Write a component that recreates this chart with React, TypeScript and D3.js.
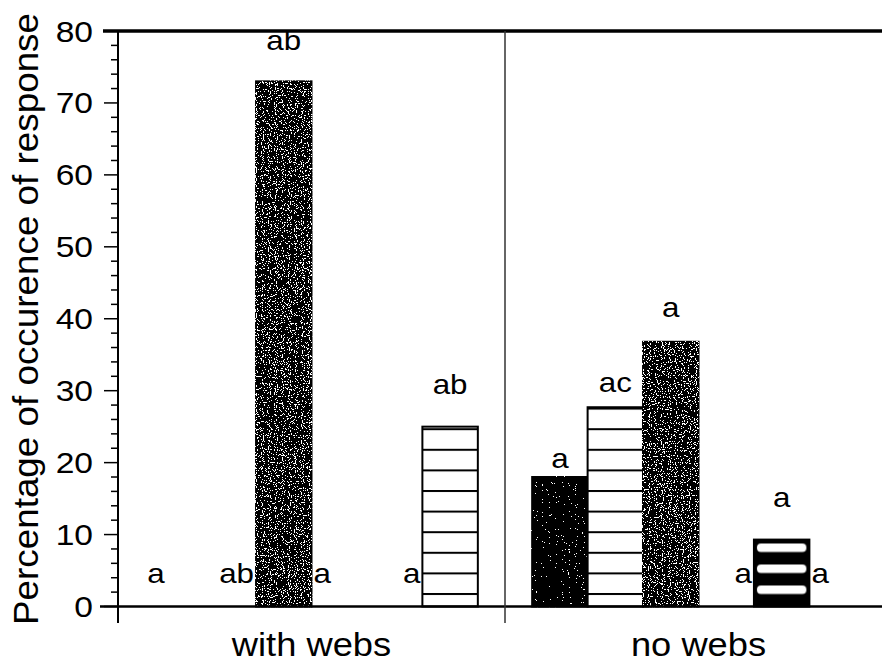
import React from "react";
import * as d3 from "d3";

const width = 882;
const height = 665;
const margin = { top: 31, left: 118, bottom: 606.5 };
const font = "'Liberation Sans', Arial, Helvetica, sans-serif";

// data
const groups = ["with webs", "no webs"];
const slots = [0, 1, 2, 3, 4, 5];
const withWebs = [0, 0, 73, 0, 0, 25];
const noWebs = [18, 27.7, 36.8, 0, 9.3, 0];
const withWebsLetters = ["a", "ab", "ab", "a", "a", "ab"];
const noWebsLetters = ["a", "ac", "a", "a", "a", "a"];
// where the letters sit, in axis units
const withWebsLetterAt = [3.3, 3.3, 77.4, 3.3, 3.3, 29.6];
const noWebsLetterAt = [19.3, 29.8, 40.2, 3.3, 13.8, 3.3];
const yTicks = [0, 10, 20, 30, 40, 50, 60, 70, 80];

const values = [withWebs, noWebs];
const letters = [withWebsLetters, noWebsLetters];
const letterAt = [withWebsLetterAt, noWebsLetterAt];

// styling per slot / for letters over empty bars
const slotFill = ["sparse", "lines", "speck", "speck", "bands", "lines"];
const zeroAlign = [
  ["start", "end", "middle", "start", "end", "middle"],
  ["middle", "middle", "middle", "end", "middle", "start"]
];

const x0 = d3.scaleBand().domain(groups).range([margin.left, 892]).padding(0);
const x1 = d3
  .scaleBand()
  .domain(slots.map(String))
  .range([0, x0.bandwidth()])
  .paddingInner(0)
  .paddingOuter(0.49);
const y = d3.scaleLinear().domain([0, 80]).range([margin.bottom, margin.top]);

const table = (t: number) =>
  d3.range(20).map(i => (i / 20 >= t ? 1 : 0)).join(" ");

const Speck = ({ id, t, seed }: { id: string; t: number; seed: number }) => (
  <filter id={id} x="-0.05" y="-0.02" width="1.1" height="1.04" colorInterpolationFilters="sRGB">
    <feTurbulence type="fractalNoise" baseFrequency="0.85" numOctaves="1" seed={seed} result="n" />
    <feColorMatrix in="n" type="matrix" values="0 0 0 0 1  0 0 0 0 1  0 0 0 0 1  1 0 0 0 0" result="w" />
    <feComponentTransfer in="w" result="sp">
      <feFuncA type="discrete" tableValues={table(t)} />
    </feComponentTransfer>
    <feComposite in="sp" in2="SourceGraphic" operator="in" result="spIn" />
    <feMerge>
      <feMergeNode in="SourceGraphic" />
      <feMergeNode in="spIn" />
    </feMerge>
  </filter>
);

export default function App() {
  const minor = d3.range(0, 81, 2);
  const bw = x1.bandwidth();

  const bars: any[] = [];
  const patterns: any[] = [];
  const labels: any[] = [];

  groups.forEach((g, gi) => {
    slots.forEach(i => {
      const v = values[gi][i];
      const bx = (x0(g) as number) + (x1(String(i)) as number);
      const key = `${gi}-${i}`;
      if (v > 0) {
        const kind = slotFill[i];
        let fill = "#000";
        let filter: string | undefined;
        if (kind === "lines") fill = "url(#lines)";
        if (kind === "speck") filter = "url(#speck)";
        if (kind === "sparse") filter = "url(#sparse)";
        if (kind === "bands") {
          fill = `url(#bands-${key})`;
          patterns.push(
            <pattern key={key} id={`bands-${key}`} patternUnits="userSpaceOnUse"
              x={bx} y={y(0) - 21} width={bw} height={21}>
              <rect width={bw} height={21} fill="#000" />
              <rect x={3} y={0} width={bw - 6} height={8.5} rx={4} fill="#fff" />
            </pattern>
          );
        }
        bars.push(
          <rect key={key} x={bx} y={y(v)} width={bw} height={y(0) - y(v)}
            fill={fill} filter={filter} stroke="#000" strokeWidth={2} />
        );
      }
      let lx = bx + bw / 2;
      let anchor = "middle";
      if (v === 0) {
        anchor = zeroAlign[gi][i];
        if (anchor === "start") lx = bx + 2;
        if (anchor === "end") lx = bx + bw - 2;
      }
      labels.push(
        <text key={key} transform={`translate(${lx},${y(letterAt[gi][i])}) scale(1.12,1)`}
          textAnchor={anchor} fontSize={28}>
          {letters[gi][i]}
        </text>
      );
    });
  });

  return (
    <svg width={width} height={height} style={{ position: "absolute", left: 0, top: 0 }}
      fontFamily={font}>
      <defs>
        <Speck id="speck" t={0.56} seed={4} />
        <Speck id="sparse" t={0.68} seed={9} />
        <pattern id="lines" patternUnits="userSpaceOnUse" x={0} y={y(0) - 13.5} width={20} height={20.6}>
          <rect width={20} height={20.6} fill="#fff" />
          <rect width={20} height={2} fill="#000" />
        </pattern>
        {patterns}
      </defs>
      <rect width={width} height={height} fill="#fff" />

      {bars}

      {/* frame */}
      <line x1={103} x2={width} y1={margin.top} y2={margin.top} stroke="#000" strokeWidth={3.5} />
      <line x1={100} x2={width} y1={y(0)} y2={y(0)} stroke="#000" strokeWidth={2.5} />
      <line x1={margin.left} x2={margin.left} y1={margin.top} y2={623} stroke="#000" strokeWidth={2} />
      <line x1={x0("no webs")} x2={x0("no webs")} y1={margin.top} y2={623} stroke="#333" strokeWidth={1.5} />

      {/* y ticks */}
      {minor.map(t => (
        <line key={t} x1={t % 10 === 0 ? 104 : 111} x2={margin.left} y1={y(t)} y2={y(t)}
          stroke="#000" strokeWidth={1.5} />
      ))}
      {yTicks.map(t => (
        <text key={t} transform={`translate(93,${y(t)}) scale(1.12,1)`} textAnchor="end"
          dy="0.35em" fontSize={30}>
          {t}
        </text>
      ))}

      {labels}

      {groups.map(g => (
        <text key={g} transform={`translate(${(x0(g) as number) + x0.bandwidth() / 2},656) scale(1.1,1)`}
          textAnchor="middle" fontSize={33}>
          {g}
        </text>
      ))}
      <text transform="translate(38,319) rotate(-90)" textAnchor="middle" fontSize={35}
        textLength={612} lengthAdjust="spacingAndGlyphs">
        Percentage of occurence of response
      </text>
    </svg>
  );
}
